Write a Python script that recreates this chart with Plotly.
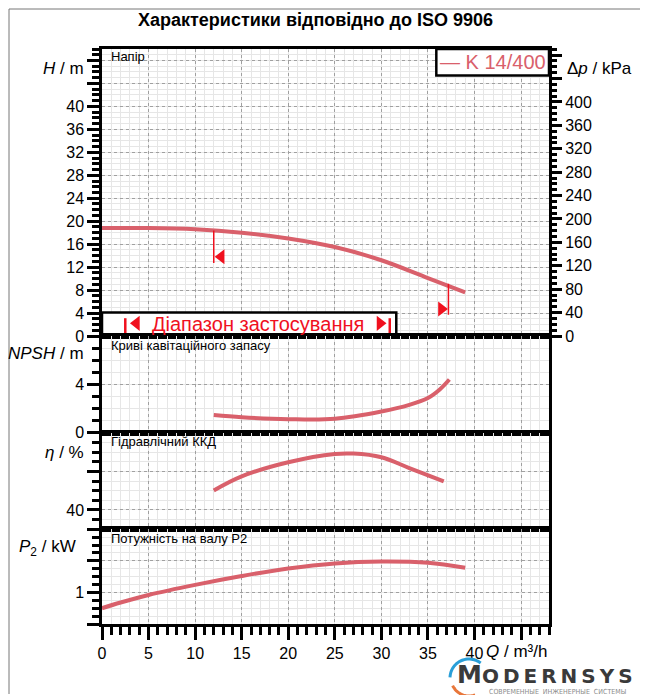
import numpy as np
import plotly.graph_objects as go
from plotly.subplots import make_subplots

# Q / m3/h and curves
q_head = [0, 5, 10, 15, 20, 25, 30, 35, 39]
head = [18.8, 18.8, 18.6, 18.0, 17.0, 15.5, 13.2, 10.1, 7.6]

q_npsh = [12, 15, 20, 25, 30, 33, 35, 36.3, 37.3]
npsh = [1.46, 1.28, 1.12, 1.15, 1.75, 2.3, 2.87, 3.6, 4.4]

q_eta = [12, 15, 20, 25, 27, 30, 33, 36.7]
eta = [50.1, 57.4, 64.7, 69.0, 69.2, 67.3, 61.7, 54.8]

q_p2 = [0, 2, 5, 10, 15, 20, 25, 30, 35, 39]
p2 = [0.75, 0.84, 0.96, 1.12, 1.26, 1.38, 1.46, 1.49, 1.47, 1.39]

q_ticks = [0, 5, 10, 15, 20, 25, 30, 35, 40, 45]

# operating range (Діапазон застосування)
q_min, q_max = 12, 37.2
h_at_min, h_at_max = 18.4, 9.1

pump_name = "K 14/400"
curve_col = "#d9606b"
red = "#f0101e"
RHO_G = 9.81  # kPa per m of head

# the page body keeps its default 8px margin, so the figure is 8px smaller
# and all page positions below are measured from the window corner
OFF = 8
W, H = 648, 695
L, R, T, B = 102, 99, 49, 71
pw, ph = W - L - R, H - T - B


def px(x):
    return (x - L) / pw


def py(y):
    return (H - B - y) / ph


fig = make_subplots(rows=4, cols=1, shared_xaxes=True, vertical_spacing=0,
                    row_heights=[287, 96.7, 96.6, 94.7],
                    specs=[[{"secondary_y": True}], [{}], [{}], [{}]])

line = dict(color=curve_col, width=4, shape="spline")
fig.add_trace(go.Scatter(x=q_head, y=head, mode="lines", line=line), row=1, col=1)
# same curve in kPa, invisible, only so the right axis gets drawn
fig.add_trace(go.Scatter(x=q_head, y=[h * RHO_G for h in head], mode="lines", opacity=0,
                         hoverinfo="skip", line=dict(width=0)),
              row=1, col=1, secondary_y=True)
fig.add_trace(go.Scatter(x=q_npsh, y=npsh, mode="lines", line=line), row=2, col=1)
fig.add_trace(go.Scatter(x=q_eta, y=eta, mode="lines", line=line), row=3, col=1)
fig.add_trace(go.Scatter(x=q_p2, y=p2, mode="lines", line=line), row=4, col=1)

# range marks on the head curve
fig.add_trace(go.Scatter(x=[q_min, q_min], y=[h_at_min, 12.7], mode="lines",
                         line=dict(color=red, width=1.5)), row=1, col=1)
fig.add_trace(go.Scatter(x=[q_max, q_max], y=[h_at_max, 3.7], mode="lines",
                         line=dict(color=red, width=1.5)), row=1, col=1)
fig.add_trace(go.Scatter(x=[q_min + 0.8], y=[13.8], mode="markers",
                         marker=dict(symbol="triangle-left", size=13, color=red)), row=1, col=1)
fig.add_trace(go.Scatter(x=[q_max - 0.75], y=[4.7], mode="markers",
                         marker=dict(symbol="triangle-right", size=13, color=red)), row=1, col=1)

# legend box for the range
fig.add_shape(type="rect", x0=0, x1=31.6, y0=0, y1=4.1, xref="x", yref="y",
              line=dict(color="black", width=2.5), fillcolor="white", layer="between")
for xb in [2.5, 30.9]:
    fig.add_trace(go.Scatter(x=[xb, xb], y=[3.1, -0.1], mode="lines",
                             line=dict(color=red, width=2.5)), row=1, col=1)
fig.add_trace(go.Scatter(x=[3.7], y=[2.2], mode="markers",
                         marker=dict(symbol="triangle-left", size=13, color=red)), row=1, col=1)
fig.add_trace(go.Scatter(x=[29.85], y=[2.2], mode="markers",
                         marker=dict(symbol="triangle-right", size=13, color=red)), row=1, col=1)

# pump legend box
fig.add_shape(type="rect", x0=35.9, x1=48, y0=45.4, y1=50, xref="x", yref="y",
              line=dict(color="black", width=2.5), fillcolor="white", layer="between")

grid = dict(showgrid=True, gridcolor="#a0a0a0", griddash="dot", gridwidth=1)
axline = dict(showline=True, linecolor="black", linewidth=2.5, mirror=True, zeroline=False,
              automargin=False)
mgrid = dict(showgrid=True, gridcolor="#e6e6e6", gridwidth=1, griddash="solid")

for r in range(1, 5):
    fig.update_xaxes(range=[0, 48], domain=[0, 1], tickmode="array", tickvals=q_ticks,
                     ticktext=[str(v) if v <= 40 else "" for v in q_ticks],
                     **grid, **axline, minor=dict(dtick=1, **mgrid),
                     row=r, col=1)
fig.update_xaxes(ticks="outside", ticklen=13, tickwidth=2.5, tickcolor="black",
                 tickfont=dict(size=16, color="black"),
                 minor=dict(ticks="outside", ticklen=8, tickwidth=2.5, tickcolor="black"),
                 row=4, col=1)

yt = dict(ticks="outside", ticklen=12, tickwidth=2.5, tickcolor="black",
          tickfont=dict(size=16, color="black"))
ymin = dict(ticks="outside", ticklen=7, tickwidth=2.5, tickcolor="black", **mgrid)

h_vals = list(range(0, 49, 4))
fig.update_yaxes(range=[0, 50], tickmode="array", tickvals=h_vals,
                 ticktext=[str(v) if v <= 40 else "" for v in h_vals],
                 minor=dict(dtick=1, **ymin), **yt, **grid, **axline,
                 row=1, col=1, secondary_y=False)
dp_vals = list(range(0, 481, 40))
fig.update_yaxes(range=[0, 50 * RHO_G], tickmode="array", tickvals=dp_vals,
                 ticktext=[str(v) if v <= 400 else "" for v in dp_vals],
                 showgrid=False, zeroline=False, automargin=False, showticklabels=True,
                 minor=dict(dtick=10, ticks="outside", ticklen=7, tickwidth=2.5,
                            tickcolor="black", showgrid=False), **yt,
                 row=1, col=1, secondary_y=True)
fig.update_yaxes(range=[0, 8], tickmode="array", tickvals=[0, 4, 8], ticktext=["0", "4", ""],
                 minor=dict(dtick=1, **ymin), **yt, **grid, **axline, row=2, col=1)
fig.update_yaxes(range=[30, 80], tickmode="array", tickvals=[40, 60, 80],
                 ticktext=["40", "", ""],
                 minor=dict(dtick=5, tick0=30, **ymin), **yt, **grid, **axline, row=3, col=1)
fig.update_yaxes(range=[0.5, 2.0], tickmode="array", tickvals=[0.5, 1, 1.5, 2],
                 ticktext=["", "1", "", ""],
                 minor=dict(dtick=0.125, tick0=0.5, **ymin), **yt, **grid, **axline,
                 row=4, col=1)

ann = []


def txt(x, y, s, size, xa="left", col="black", fam="Liberation Sans"):
    ann.append(dict(x=px(x), y=py(y), xref="paper", yref="paper", text=s, showarrow=False,
                    xanchor=xa, yanchor="middle", font=dict(size=size, color=col, family=fam)))


txt(315, 20, "<b>Характеристики відповідно до ISO 9906</b>", 18, "center")
txt(86, 68, "<i>H</i> / m", 17, "right")
txt(565, 68, "Δ<i>p</i> / kPa", 17)
txt(86, 353, "<i>NPSH</i> / m", 17, "right")
txt(86, 452, "<i>η</i> / %", 17, "right")
txt(78, 548, "<i>P</i><sub>2</sub> / kW", 17, "right")
txt(549, 651, "<i>Q</i> / m³/h", 17, "right")

txt(109, 57, "Напір", 13)
txt(109, 345, "Криві кавітаційного запасу", 13)
txt(109, 441, "Гідравлічний ККД", 13)
txt(109, 538, "Потужність на валу P2", 13)

txt(493, 62, "— " + pump_name, 20, "center", curve_col)
txt(258, 324, "Діапазон застосування", 20, "center", red)

# logo
thin = "\u2009"
logo = '<span style="font-size:25px">M</span>' + thin.join("ODERNSYS")
txt(455, 674.5, "<b>" + logo + "</b>", 20, "left", "#3a3a3a", "DejaVu Sans")
txt(487, 691.5, "СОВРЕМЕННЫЕ  ИНЖЕНЕРНЫЕ  СИСТЕМЫ", 7, "left", "#8a8a8a",
    "DejaVu Sans Condensed")

fig.update_layout(annotations=ann)


def arc(cx, cy, r, a0, a1):
    a = np.radians(np.linspace(a0, a1, 30))
    pts = [(px(cx + r * np.cos(t)), py(cy - r * np.sin(t))) for t in a]
    return "M " + " L ".join(f"{x:.4f},{y:.4f}" for x, y in pts)


shapes = list(fig.layout.shapes)
shapes.append(dict(type="path", path=arc(469, 678, 19, 178, 52), xref="paper", yref="paper",
                   line=dict(color="#2a9fd8", width=3)))
shapes.append(dict(type="path", path=arc(469, 678, 18, 205, 290), xref="paper", yref="paper",
                   line=dict(color="#e8763a", width=3)))
# thin page frame
for x0, y0, x1, y1 in [(9, 9, 645, 9), (9, 9, 9, 694), (645, 9, 645, 668)]:
    shapes.append(dict(type="line", x0=px(x0), y0=py(y0), x1=px(x1), y1=py(y1),
                       xref="paper", yref="paper", line=dict(color="#777", width=1)))
fig.update_layout(shapes=shapes)

fig.update_layout(width=W - OFF, height=H - OFF,
                  margin=dict(l=L - OFF, r=R, t=T - OFF, b=B),
                  plot_bgcolor="white", paper_bgcolor="white", showlegend=False,
                  font=dict(family="Liberation Sans", color="black"))

fig.write_html("out.html")
